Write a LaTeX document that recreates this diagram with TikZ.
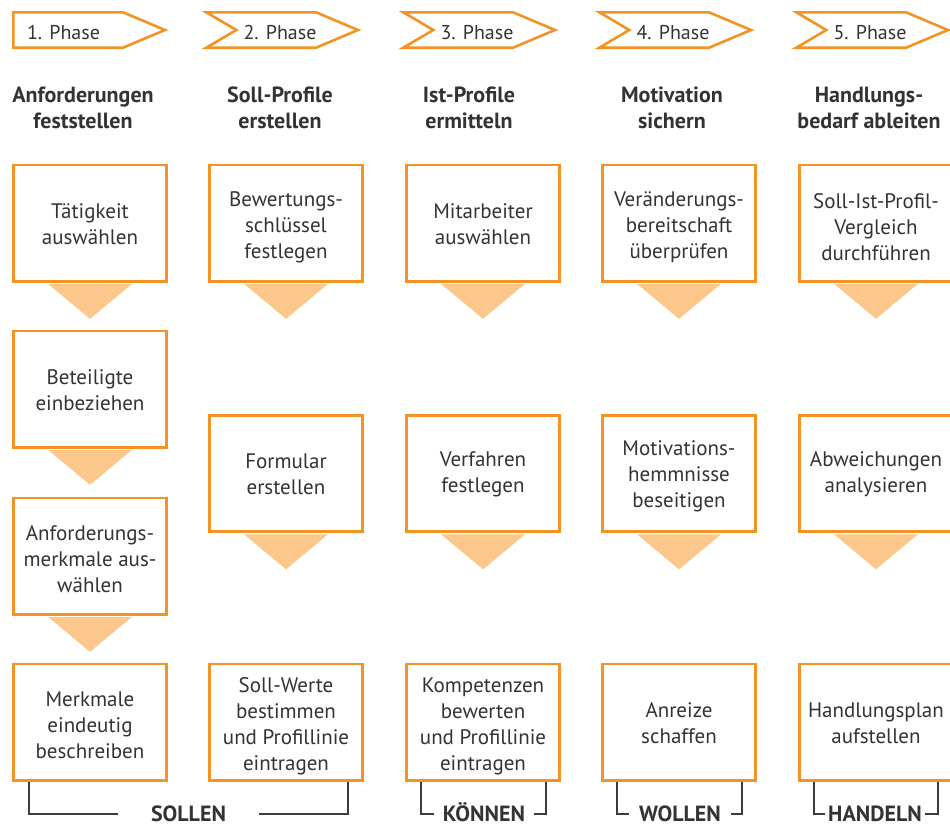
\documentclass[tikz,border=0pt]{standalone}
\usepackage{fontspec}
\setmainfont{PT Sans}
\definecolor{ink}{HTML}{333333}
\definecolor{frame}{HTML}{F39323}
\definecolor{wedge}{HTML}{FCC78A}
\definecolor{rule}{HTML}{3C3C3C}
\begin{document}
\begin{tikzpicture}[x=1pt,y=-1pt,
  stepbox/.style={draw=frame, line width=2.6pt, fill=white,
    minimum width=153.4pt, minimum height=116.4pt, inner sep=0pt},
  boxtext/.style={align=center, text=ink, inner sep=0pt, font=\fontsize{21}{26}\selectfont},
  phasebar/.style={draw=frame, line width=2.6pt, line join=miter},
  phasetext/.style={text=ink, font=\fontsize{20}{24}\selectfont, anchor=base, inner sep=0pt},
  headtext/.style={text=ink, font=\bfseries\fontsize{22}{26}\selectfont, align=center, anchor=base, inner sep=0pt},
  wedgefill/.style={fill=wedge},
  bracket/.style={draw=rule, line width=1.4pt},
  tagtext/.style={text=ink, font=\bfseries\fontsize{22}{26}\selectfont, text height=15pt, text depth=0pt, inner ysep=0pt}
]
\useasboundingbox (0,0) rectangle (950,823);

% phase arrows
\draw[phasebar] (13.3,12.3) -- (123,12.3) -- (165,30) -- (123,47.7) -- (13.3,47.7) -- cycle;
\foreach \l in {208,405,601,798}{
  \draw[phasebar] (\l-1.7,12.3) -- (\l+108,12.3) -- (\l+150,30) -- (\l+108,47.7)
    -- (\l-1.7,47.7) -- (\l+28.3,30) -- cycle;
}
\node[phasetext] (p1) at (63.5,39) {1. Phase};
\node[phasetext] (p2) at (280,39) {2. Phase};
\node[phasetext] (p3) at (477,39) {3. Phase};
\node[phasetext] (p4) at (673,39) {4. Phase};
\node[phasetext] (p5) at (870,39) {5. Phase};

% phase headings (anchored on the baseline of the last line)
\node[headtext] (h1) at (83,128) {Anforderungen\\feststellen};
\node[headtext] (h2) at (280,128) {Soll-Profile\\erstellen};
\node[headtext] (h3) at (469,128) {Ist-Profile\\ermitteln};
\node[headtext] (h4) at (672,128) {Motivation\\sichern};
\node[headtext] (h5) at (869,128) {Handlungs-\\bedarf ableiten};

% frames
\node[stepbox] (a1) at (90,223) {};
\node[stepbox] (a2) at (90,389) {};
\node[stepbox] (a3) at (90,556) {};
\node[stepbox] (a4) at (90,722) {};
\node[stepbox] (b1) at (286,223) {};
\node[stepbox] (b2) at (286,473.5) {};
\node[stepbox] (b3) at (286,722) {};
\node[stepbox] (c1) at (483,223) {};
\node[stepbox] (c2) at (483,473.5) {};
\node[stepbox] (c3) at (483,722) {};
\node[stepbox] (d1) at (679,223) {};
\node[stepbox] (d2) at (679,473.5) {};
\node[stepbox] (d3) at (679,722) {};
\node[stepbox] (e1) at (876,223) {};
\node[stepbox] (e2) at (876,473.5) {};
\node[stepbox] (e3) at (876,722) {};

% texts inside the frames
\node[boxtext, yshift=-1pt] (a1t) at (a1) {Tätigkeit\\auswählen};
\node[boxtext, yshift=-1pt] (a2t) at (a2) {Beteiligte\\einbeziehen};
\node[boxtext, yshift=-3pt] (a3t) at (a3) {Anforderungs-\\merkmale aus-\\wählen};
\node[boxtext, yshift=-3pt] (a4t) at (a4) {Merkmale\\eindeutig\\beschreiben};
\node[boxtext, yshift=-4pt] (b1t) at (b1) {Bewertungs-\\schlüssel\\festlegen};
\node[boxtext, yshift=-1pt] (b2t) at (b2) {Formular\\erstellen};
\node[boxtext, yshift=-4pt] (b3t) at (b3) {Soll-Werte\\bestimmen\\und Profillinie\\eintragen};
\node[boxtext, yshift=-1pt] (c1t) at (c1) {Mitarbeiter\\auswählen};
\node[boxtext, yshift=-1pt] (c2t) at (c2) {Verfahren\\festlegen};
\node[boxtext, yshift=-4pt] (c3t) at (c3) {Kompetenzen\\bewerten\\und Profillinie\\eintragen};
\node[boxtext, yshift=-4pt] (d1t) at (d1) {Veränderungs-\\bereitschaft\\überprüfen};
\node[boxtext, yshift=-3pt] (d2t) at (d2) {Motivations-\\hemmnisse\\beseitigen};
\node[boxtext, yshift=-1pt] (d3t) at (d3) {Anreize\\schaffen};
\node[boxtext, yshift=-4pt] (e1t) at (e1) {Soll-Ist-Profil-\\Vergleich\\durchführen};
\node[boxtext, yshift=-1pt] (e2t) at (e2) {Abweichungen\\analysieren};
\node[boxtext, yshift=-1pt] (e3t) at (e3) {Handlungsplan\\aufstellen};

% downward wedges under the frames
\foreach \n in {a1,a2,a3,b1,b2,c1,c2,d1,d2,e1,e2}{
  \fill[wedgefill] ([xshift=-42pt,yshift=-1.3pt]\n.south) -- ([xshift=42pt,yshift=-1.3pt]\n.south)
    -- ([yshift=-36.3pt]\n.south) -- cycle;
}

% bottom brackets
\node[tagtext, inner xsep=33pt] (sollen) at (188.5,814) {SOLLEN};
\node[tagtext, inner xsep=9pt] (koennen) at (484,814) {KÖNNEN};
\node[tagtext, inner xsep=10pt] (wollen) at (680,814) {WOLLEN};
\node[tagtext, inner xsep=3pt] (handeln) at (875,814) {HANDELN};

\draw[bracket] ([xshift=17pt]a4.south west) |- (sollen.west);
\draw[bracket] ([xshift=-16pt]b3.south east) |- (sollen.east);
\draw[bracket] ([xshift=16pt]c3.south west) |- (koennen.west);
\draw[bracket] ([xshift=-15pt]c3.south east) |- (koennen.east);
\draw[bracket] ([xshift=16pt]d3.south west) |- (wollen.west);
\draw[bracket] ([xshift=-15pt]d3.south east) |- (wollen.east);
\draw[bracket] ([xshift=16pt]e3.south west) |- (handeln.west);
\draw[bracket] ([xshift=-16pt]e3.south east) |- (handeln.east);
\end{tikzpicture}
\end{document}
